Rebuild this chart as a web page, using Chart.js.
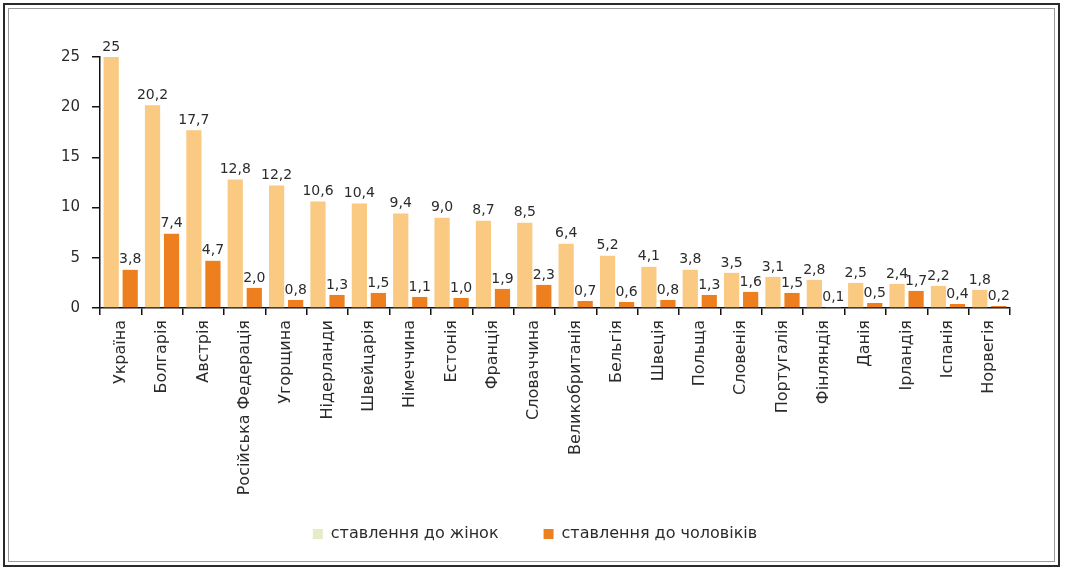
<!DOCTYPE html>
<html>
<head>
<meta charset="utf-8">
<script src="https://cdn.jsdelivr.net/npm/chart.js@4/dist/chart.umd.min.js"></script>
<style>
  body { margin: 0; background: #fff; }
  #wrap { position: relative; width: 1065px; height: 571px; }
  #outer { position: absolute; left: 3px; top: 3px; width: 1053px; height: 560px; border: 2px solid #2a2a2a; }
  #inner { position: absolute; left: 8px; top: 8px; width: 1045px; height: 552px; border: 1px solid #9a9a9a; }
  canvas { position: absolute; left: 0; top: 0; }
</style>
</head>
<body>
<div id="wrap">
  <div id="outer"></div>
  <div id="inner"></div>
  <canvas id="attitudeChart" width="1065" height="571"></canvas>
</div>
<script>
var countries = ["Україна", "Болгарія", "Австрія", "Російська Федерація", "Угорщина", "Нідерланди", "Швейцарія", "Німеччина", "Естонія", "Франція", "Словаччина", "Великобританія", "Бельгія", "Швеція", "Польща", "Словенія", "Португалія", "Фінляндія", "Данія", "Ірландія", "Іспанія", "Норвегія"];
var women = [25, 20.2, 17.7, 12.8, 12.2, 10.6, 10.4, 9.4, 9.0, 8.7, 8.5, 6.4, 5.2, 4.1, 3.8, 3.5, 3.1, 2.8, 2.5, 2.4, 2.2, 1.8];
var men = [3.8, 7.4, 4.7, 2.0, 0.8, 1.3, 1.5, 1.1, 1.0, 1.9, 2.3, 0.7, 0.6, 0.8, 1.3, 1.6, 1.5, 0.1, 0.5, 1.7, 0.4, 0.2];
var yTicks = [0, 5, 10, 15, 20, 25];

var fontFamily = "'DejaVu Sans', sans-serif";

function fmt(v) {
    if (v >= 20 && Number.isInteger(v)) return String(v);
    return v.toFixed(1).replace(".", ",");
}

// labels on top of bars
var valueLabels = {
    id: "valueLabels",
    afterDatasetsDraw: function (chart) {
        var c = chart.ctx;
        c.save();
        c.font = "14px " + fontFamily;
        c.fillStyle = "#2b2b2b";
        c.textAlign = "center";
        c.textBaseline = "bottom";
        chart.data.datasets.forEach(function (ds, i) {
            chart.getDatasetMeta(i).data.forEach(function (bar, j) {
                c.fillText(fmt(ds.data[j]), bar.x, bar.y - 3);
            });
        });
        c.restore();
    }
};

// nudge the legend up into the space beside the long rotated labels
var legendShift = {
    id: "legendShift",
    afterLayout: function (chart) {
        var lg = chart.legend;
        lg.top -= 15; lg.bottom -= 15;
        lg.left += 10; lg.right += 10;
    }
};

var ctx = document.getElementById("attitudeChart");
var attitudeChart = new Chart(ctx, {
    type: "bar",
    data: {
        labels: countries,
        datasets: [
            {
                label: "ставлення до жінок",
                backgroundColor: "rgba(250, 201, 130, 1)",
                data: women
            },
            {
                label: "ставлення до чоловіків",
                backgroundColor: "rgba(238, 127, 30, 1)",
                data: men
            }
        ]
    },
    options: {
        responsive: false,
        animation: false,
        layout: {
            padding: { left: 40, right: 55, top: 57, bottom: 4 }
        },
        datasets: {
            bar: { categoryPercentage: 0.92, barPercentage: 0.8 }
        },
        plugins: {
            tooltip: { enabled: false },
            legend: {
                position: "bottom",
                labels: {
                    boxWidth: 10,
                    boxHeight: 10,
                    padding: 45,
                    color: "#2b2b2b",
                    font: { family: fontFamily, size: 16 },
                    generateLabels: function (chart) {
                        var items = Chart.defaults.plugins.legend.labels.generateLabels(chart);
                        items[0].fillStyle = "#e6ebc8";
                        items.forEach(function (it) { it.lineWidth = 0; });
                        return items;
                    }
                }
            }
        },
        scales: {
            x: {
                afterFit: function (scale) { scale.height = 188; },
                border: { color: "#111", width: 1.5 },
                grid: { offset: true, drawOnChartArea: false, tickLength: 7, color: "#111", lineWidth: 1.5 },
                ticks: {
                    minRotation: 90,
                    maxRotation: 90,
                    autoSkip: false,
                    padding: 5,
                    color: "#2b2b2b",
                    font: { family: fontFamily, size: 16 }
                }
            },
            y: {
                min: 0,
                max: 25,
                afterFit: function (scale) { scale.width = 60; },
                afterBuildTicks: function (scale) {
                    scale.ticks = yTicks.map(function (v) { return { value: v }; });
                },
                border: { color: "#111", width: 1.5 },
                grid: { drawOnChartArea: false, tickLength: 8, color: "#111", lineWidth: 1.5 },
                ticks: {
                    padding: 12,
                    color: "#2b2b2b",
                    font: { family: fontFamily, size: 15 }
                }
            }
        }
    },
    plugins: [valueLabels, legendShift]
});
</script>
</body>
</html>
